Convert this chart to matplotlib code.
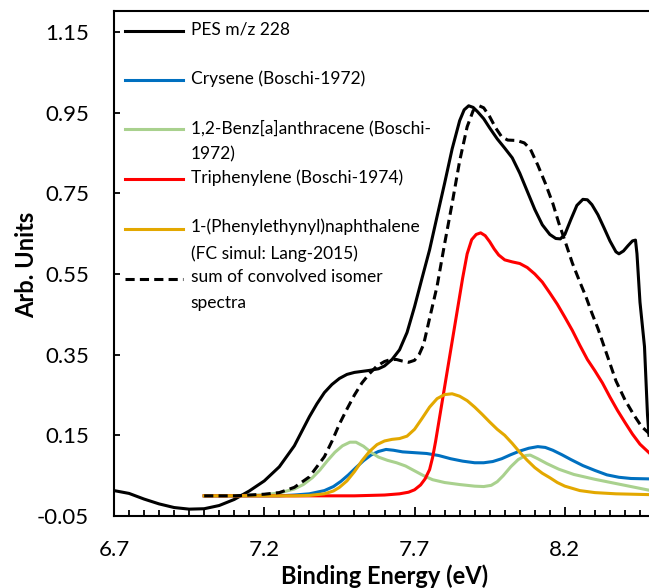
import numpy as np
import matplotlib
matplotlib.use('Agg')
import matplotlib.pyplot as plt
from matplotlib.legend_handler import HandlerLine2D
from matplotlib.ticker import FixedLocator, FormatStrFormatter

plt.rcParams['font.family'] = ['Lato', 'DejaVu Sans']

# PES m/z 228 (measured)
pes_x = [6.70, 6.75, 6.80, 6.85, 6.90, 6.95, 7.00, 7.05, 7.10, 7.15, 7.20, 7.25, 7.30,
         7.35, 7.375, 7.40, 7.425, 7.45, 7.475, 7.50, 7.55, 7.58, 7.60, 7.625, 7.65,
         7.675, 7.70, 7.725, 7.75, 7.775, 7.80, 7.825, 7.85, 7.865, 7.88, 7.895, 7.91,
         7.93, 7.95, 7.975, 8.00, 8.025, 8.05, 8.075, 8.10, 8.125, 8.15, 8.17, 8.185,
         8.20, 8.22, 8.24, 8.26, 8.275, 8.29, 8.31, 8.33, 8.35, 8.37, 8.38, 8.395, 8.41,
         8.425, 8.435, 8.44, 8.45, 8.465, 8.475, 8.48]
pes_y = [0.013, 0.006, -0.008, -0.020, -0.029, -0.033, -0.032, -0.024, -0.009, 0.012,
         0.037, 0.072, 0.124, 0.196, 0.228, 0.256, 0.276, 0.291, 0.301, 0.306, 0.311,
         0.315, 0.322, 0.338, 0.362, 0.405, 0.469, 0.540, 0.610, 0.693, 0.775, 0.860,
         0.930, 0.957, 0.967, 0.963, 0.952, 0.935, 0.912, 0.885, 0.862, 0.838, 0.800,
         0.755, 0.710, 0.672, 0.648, 0.638, 0.637, 0.648, 0.685, 0.720, 0.735, 0.734,
         0.722, 0.697, 0.665, 0.632, 0.605, 0.600, 0.607, 0.620, 0.632, 0.634, 0.600,
         0.480, 0.370, 0.200, 0.150]

# Crysene (Boschi-1972)
cry_x = [7.00, 7.25, 7.30, 7.35, 7.40, 7.43, 7.455, 7.48, 7.505, 7.53, 7.555, 7.58,
         7.605, 7.63, 7.66, 7.70, 7.74, 7.78, 7.82, 7.86, 7.90, 7.93, 7.96, 7.99, 8.02,
         8.05, 8.08, 8.11, 8.135, 8.16, 8.19, 8.22, 8.26, 8.30, 8.34, 8.38, 8.42, 8.48]
cry_y = [0.0, 0.0, 0.002, 0.005, 0.013, 0.023, 0.036, 0.052, 0.070, 0.087, 0.101, 0.110,
         0.115, 0.113, 0.109, 0.107, 0.105, 0.100, 0.092, 0.086, 0.082, 0.082, 0.085,
         0.092, 0.102, 0.111, 0.118, 0.122, 0.120, 0.113, 0.102, 0.090, 0.075, 0.063,
         0.052, 0.046, 0.043, 0.042]

# 1,2-Benz[a]anthracene (Boschi-1972)
baa_x = [7.00, 7.15, 7.20, 7.25, 7.30, 7.33, 7.36, 7.385, 7.41, 7.435, 7.46, 7.485,
         7.505, 7.53, 7.555, 7.58, 7.61, 7.64, 7.67, 7.70, 7.73, 7.76, 7.80, 7.85, 7.90,
         7.93, 7.955, 7.975, 7.995, 8.02, 8.045, 8.07, 8.085, 8.11, 8.14, 8.18, 8.23,
         8.30, 8.38, 8.48]
baa_y = [0.0, 0.001, 0.003, 0.007, 0.017, 0.028, 0.045, 0.064, 0.087, 0.108, 0.124,
         0.133, 0.133, 0.123, 0.108, 0.096, 0.088, 0.082, 0.074, 0.062, 0.050, 0.040,
         0.033, 0.028, 0.024, 0.023, 0.026, 0.035, 0.050, 0.072, 0.090, 0.100, 0.101,
         0.092, 0.080, 0.066, 0.053, 0.041, 0.029, 0.014]

# Triphenylene (Boschi-1974)
tri_x = [7.00, 7.50, 7.60, 7.65, 7.68, 7.70, 7.72, 7.735, 7.75, 7.76, 7.77, 7.78, 7.80,
         7.82, 7.84, 7.86, 7.875, 7.89, 7.905, 7.92, 7.935, 7.95, 7.965, 7.98, 8.00,
         8.025, 8.05, 8.075, 8.10, 8.125, 8.15, 8.175, 8.20, 8.225, 8.25, 8.275, 8.30,
         8.325, 8.35, 8.375, 8.40, 8.425, 8.45, 8.48]
tri_y = [0.0, 0.0, 0.002, 0.005, 0.009, 0.015, 0.027, 0.042, 0.065, 0.095, 0.135,
         0.180, 0.270, 0.360, 0.450, 0.540, 0.600, 0.635, 0.648, 0.652, 0.645, 0.630,
         0.612, 0.597, 0.585, 0.580, 0.576, 0.566, 0.550, 0.530, 0.503, 0.475, 0.443,
         0.410, 0.373, 0.338, 0.310, 0.280, 0.245, 0.212, 0.182, 0.153, 0.128, 0.107]

# 1-(Phenylethynyl)naphthalene (FC simul: Lang-2015)
pen_x = [7.00, 7.30, 7.35, 7.40, 7.43, 7.45, 7.475, 7.50, 7.525, 7.55, 7.575, 7.60,
         7.625, 7.65, 7.675, 7.70, 7.725, 7.75, 7.775, 7.80, 7.825, 7.85, 7.875, 7.90,
         7.925, 7.95, 7.975, 8.00, 8.025, 8.05, 8.075, 8.10, 8.125, 8.15, 8.175, 8.20,
         8.25, 8.30, 8.37, 8.48]
pen_y = [0.0, 0.0, 0.001, 0.005, 0.012, 0.021, 0.037, 0.060, 0.087, 0.110, 0.127,
         0.136, 0.140, 0.142, 0.148, 0.165, 0.192, 0.220, 0.241, 0.251, 0.253, 0.247,
         0.236, 0.220, 0.202, 0.183, 0.165, 0.150, 0.130, 0.108, 0.088, 0.070, 0.056,
         0.045, 0.033, 0.024, 0.013, 0.008, 0.005, 0.003]

# sum of convolved isomer spectra
sum_x = [7.00, 7.10, 7.15, 7.20, 7.25, 7.30, 7.35, 7.40, 7.425, 7.45, 7.475, 7.50,
         7.525, 7.55, 7.575, 7.60, 7.62, 7.64, 7.66, 7.68, 7.70, 7.715, 7.73, 7.75,
         7.775, 7.80, 7.825, 7.85, 7.875, 7.895, 7.915, 7.93, 7.95, 7.97, 7.99, 8.01,
         8.04, 8.065, 8.085, 8.11, 8.135, 8.16, 8.18, 8.20, 8.225, 8.25, 8.27, 8.29,
         8.31, 8.34, 8.37, 8.40, 8.43, 8.455, 8.48]
sum_y = [0.0, 0.0, 0.002, 0.004, 0.008, 0.021, 0.047, 0.097, 0.135, 0.178, 0.215,
         0.250, 0.280, 0.303, 0.322, 0.333, 0.338, 0.338, 0.334, 0.331, 0.336, 0.350,
         0.375, 0.440, 0.520, 0.625, 0.725, 0.830, 0.915, 0.955, 0.967, 0.962, 0.940,
         0.912, 0.890, 0.882, 0.881, 0.875, 0.860, 0.820, 0.775, 0.725, 0.676, 0.633,
         0.577, 0.530, 0.494, 0.453, 0.415, 0.350, 0.285, 0.238, 0.200, 0.172, 0.155]

x_major = [6.7, 7.2, 7.7, 8.2]
y_major = [-0.05, 0.15, 0.35, 0.55, 0.75, 0.95, 1.15]

labels = ['PES m/z 228\n ',
          'Crysene (Boschi-1972)\n ',
          '1,2-Benz[a]anthracene (Boschi-\n1972)',
          'Triphenylene (Boschi-1974)\n ',
          '1-(Phenylethynyl)naphthalene\n(FC simul: Lang-2015)',
          'sum of convolved isomer\nspectra']


class FirstLineHandler(HandlerLine2D):
    # legend key sits next to the first line of a two-line label
    def __init__(self, shift, **kw):
        super().__init__(**kw)
        self.shift = shift

    def create_artists(self, legend, orig_handle, xdescent, ydescent, width, height,
                       fontsize, trans):
        arts = super().create_artists(legend, orig_handle, xdescent, ydescent, width,
                                      height, fontsize, trans)
        for a in arts:
            a.set_ydata(np.asarray(a.get_ydata()) + self.shift)
        return arts


fig = plt.figure(figsize=(6.49, 5.88), dpi=100)
ax = fig.add_axes([114 / 649, 72 / 588, 535 / 649, 505 / 588])

lw = 2.2
l1, = ax.plot(pes_x, pes_y, color='black', lw=lw)
l2, = ax.plot(cry_x, cry_y, color='#0070C0', lw=lw)
l3, = ax.plot(baa_x, baa_y, color='#A9D18E', lw=lw)
l4, = ax.plot(tri_x, tri_y, color='#FF0000', lw=lw)
l5, = ax.plot(pen_x, pen_y, color='#E3A800', lw=lw)
l6, = ax.plot(sum_x, sum_y, color='black', lw=lw, dashes=(3, 1.7))

ax.set_xlim(6.7, 8.48)
ax.set_ylim(-0.05, 1.202)
ax.xaxis.set_major_locator(FixedLocator(x_major))
ax.xaxis.set_minor_locator(FixedLocator([6.7 + 0.05 * i for i in range(36)]))
ax.xaxis.set_major_formatter(FormatStrFormatter('%.1f'))
ax.yaxis.set_major_locator(FixedLocator(y_major))
ax.yaxis.set_major_formatter(FormatStrFormatter('%.2f'))

ax.spines['right'].set_visible(False)
for s in ['left', 'bottom', 'top']:
    ax.spines[s].set_linewidth(1.5)
ax.tick_params(axis='y', which='major', direction='in', length=4.3, width=1.3,
               labelsize=16, pad=18)
ax.tick_params(axis='x', which='major', direction='in', length=6.2, width=1.3,
               labelsize=16, pad=17)
ax.tick_params(axis='x', which='minor', direction='in', length=4.3, width=1.3)

ax.set_xlabel('Binding Energy (eV)', fontsize=17, fontweight='bold')
ax.set_ylabel('Arb. Units', fontsize=17, fontweight='bold')
ax.xaxis.set_label_coords(0.506, -0.095)
ax.yaxis.set_label_coords(-0.142, 0.497)

hm = {h: FirstLineHandler(8.6) for h in [l1, l2, l3, l4, l5, l6]}
leg = ax.legend([l1, l2, l3, l4, l5, l6], labels, loc='upper left',
                bbox_to_anchor=(0.021, 0.98), frameon=False, fontsize=12.5,
                borderpad=0, borderaxespad=0, handlelength=3.3, handletextpad=0.47,
                labelspacing=0.4, handler_map=hm)
for t in leg.get_texts():
    t.set_linespacing(1.77)

fig.savefig('out.png', dpi=100)
